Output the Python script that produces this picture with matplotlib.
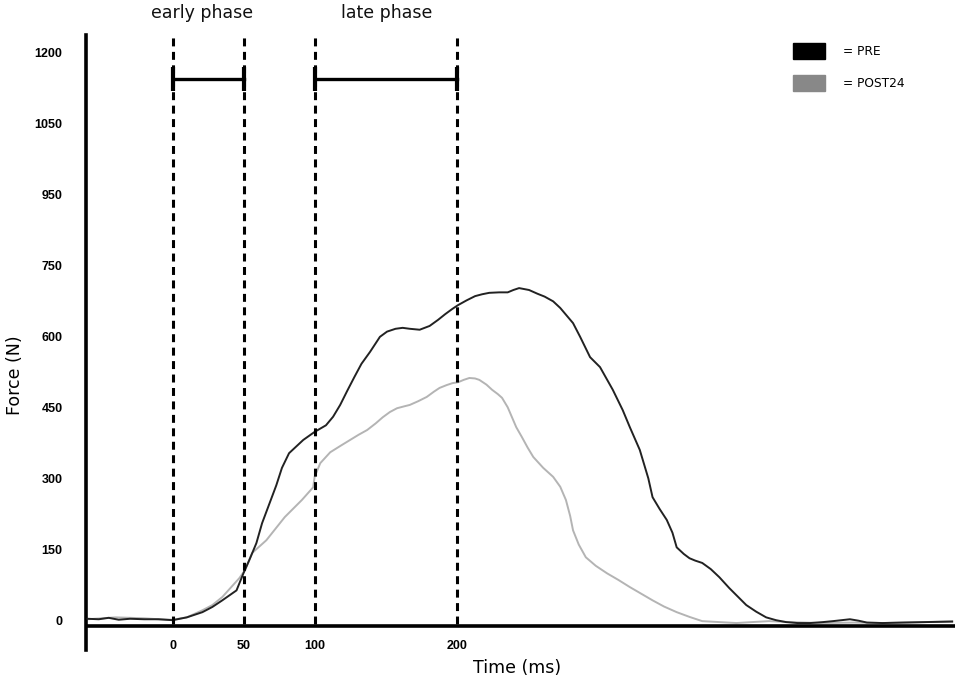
import matplotlib
matplotlib.use('Agg')
import numpy as np
import matplotlib.pyplot as plt
from matplotlib.patches import Patch

# 时间 (ms) 与力 (N) —— 从原图读取
pre_t = [-60, -52, -45, -38, -30, -20, -10, 0, 10, 21, 28, 35, 45, 50, 54, 59, 63, 68,
         73, 77, 82, 92, 100, 108, 113, 118, 123, 128, 133, 139, 146, 151, 157, 162,
         167, 174, 181, 187, 192, 197, 201, 207, 213, 218, 223, 230, 236, 240, 244,
         251, 257, 262, 268, 273, 282, 287, 294, 301, 310, 317, 322, 329, 335, 338,
         343, 348, 352, 355, 360, 364, 368, 373, 379, 385, 392, 398, 404, 411, 418,
         425, 432, 440, 449, 458, 465, 471, 477, 483, 489, 500, 514, 530, 549]
pre_f = [3, 2, 5, 1, 3, 2, 2, 0, 6, 17, 28, 42, 63, 100, 127, 163, 205, 245,
         285, 322, 353, 381, 398, 412, 430, 455, 485, 514, 542, 567, 599, 610, 616, 618,
         616, 614, 622, 635, 647, 658, 666, 676, 685, 689, 692, 693, 693, 698, 702,
         698, 690, 684, 674, 660, 628, 599, 556, 535, 487, 444, 408, 360, 300, 260,
         235, 212, 185, 154, 140, 131, 126, 121, 108, 91, 68, 50, 32, 18, 6,
         0, -4, -6, -6, -4, -2, 0, 2, -1, -5, -6, -5, -4, -3]

post_t = [-60, -50, -40, -30, -20, -10, 0, 10, 21, 28, 35, 47, 51, 56, 66, 79, 91, 99,
          100, 104, 111, 119, 125, 131, 137, 143, 148, 153, 158, 163, 167, 173, 179,
          184, 188, 193, 197, 201, 205, 209, 213, 216, 221, 225, 229, 232, 236, 239,
          242, 246, 250, 254, 261, 268, 273, 277, 280, 282, 286, 291, 298, 306, 314,
          322, 330, 338, 346, 355, 364, 373, 385, 397, 408, 420, 435, 456, 480, 500,
          530, 549]
post_f = [2, 4, 6, 5, 4, 2, 1, 6, 21, 32, 49, 89, 106, 142, 169, 218, 254, 281,
          303, 332, 355, 370, 381, 392, 402, 416, 429, 440, 448, 452, 455, 463, 472,
          483, 491, 497, 501, 503, 508, 512, 511, 508, 498, 487, 478, 470, 450, 429,
          408, 387, 365, 345, 322, 303, 282, 254, 220, 190, 160, 133, 115, 99, 85,
          70, 56, 42, 29, 17, 7, -2, -4, -6, -4, -2, -4, -6, -5, -6,
          -4, -2]

phase_lines = [0, 50, 100, 200]
# 名称, 起点, 终点, 标签中心
phases = [('early phase', 0, 50, 21), ('late phase', 100, 200, 151)]
y_ticks = [0, 150, 300, 450, 600, 750, 900, 1050, 1200]
y_labels = ['0', '150', '300', '450', '600', '750', '950', '1050', '1200']
x_ticks = [0, 50, 100, 200]

fig = plt.figure(figsize=(9.55, 6.86), dpi=100, facecolor='white')
ax = fig.add_axes([86 / 955, 36 / 686, 1 - 86 / 955, (650 - 35) / 686])

ax.plot(post_t, post_f, color='#b4b4b4', lw=1.4, zorder=2)
ax.plot(pre_t, pre_f, color='#222222', lw=1.4, zorder=3)

for t in phase_lines:
    ax.plot([t, t], [-8, 1237], color='black', lw=2.2, ls=(0, (2.6, 1.8)), zorder=4)

for name, t0, t1, tc in phases:
    ax.plot([t0, t1], [1144, 1144], color='black', lw=2.4, zorder=5,
            marker='|', markersize=17, markeredgewidth=3)
    ax.text(tc, 1283, name, ha='center', va='center',
            fontsize=12.5, color='#111111', clip_on=False)

ax.set_xlim(-61, 551)
ax.set_ylim(-63, 1237)
ax.axhline(-13, color='black', lw=2.6, zorder=6)

for s in ['top', 'right', 'bottom']:
    ax.spines[s].set_visible(False)
ax.spines['left'].set_linewidth(2.6)

ax.set_yticks(y_ticks)
ax.set_yticklabels(y_labels, fontsize=9, fontweight='bold', family='Liberation Sans')
ax.set_xticks(x_ticks)
ax.set_xticklabels([str(v) for v in x_ticks], fontsize=9, fontweight='bold',
                   family='Liberation Sans')
ax.tick_params(axis='y', length=0, pad=17)
ax.tick_params(axis='x', length=0, pad=-7)

fig.text(517 / 955, 1 - 668 / 686, 'Time (ms)', ha='center', va='center', fontsize=12.5)
fig.text(15 / 955, 1 - 375 / 686, 'Force (N)', ha='center', va='center', fontsize=12.5,
         rotation=90)

handles = [Patch(facecolor='black', edgecolor='black'),
           Patch(facecolor='#888888', edgecolor='#888888')]
ax.legend(handles, ['= PRE', '= POST24'], loc='upper left', frameon=False,
          bbox_to_anchor=(793 / 955, 1 - 43 / 686), bbox_transform=fig.transFigure,
          borderpad=0, borderaxespad=0, handlelength=2.6, handleheight=1.6,
          handletextpad=1.5, labelspacing=1.35, prop={'size': 8.8})

plt.savefig('out.png', dpi=100, facecolor='white')
